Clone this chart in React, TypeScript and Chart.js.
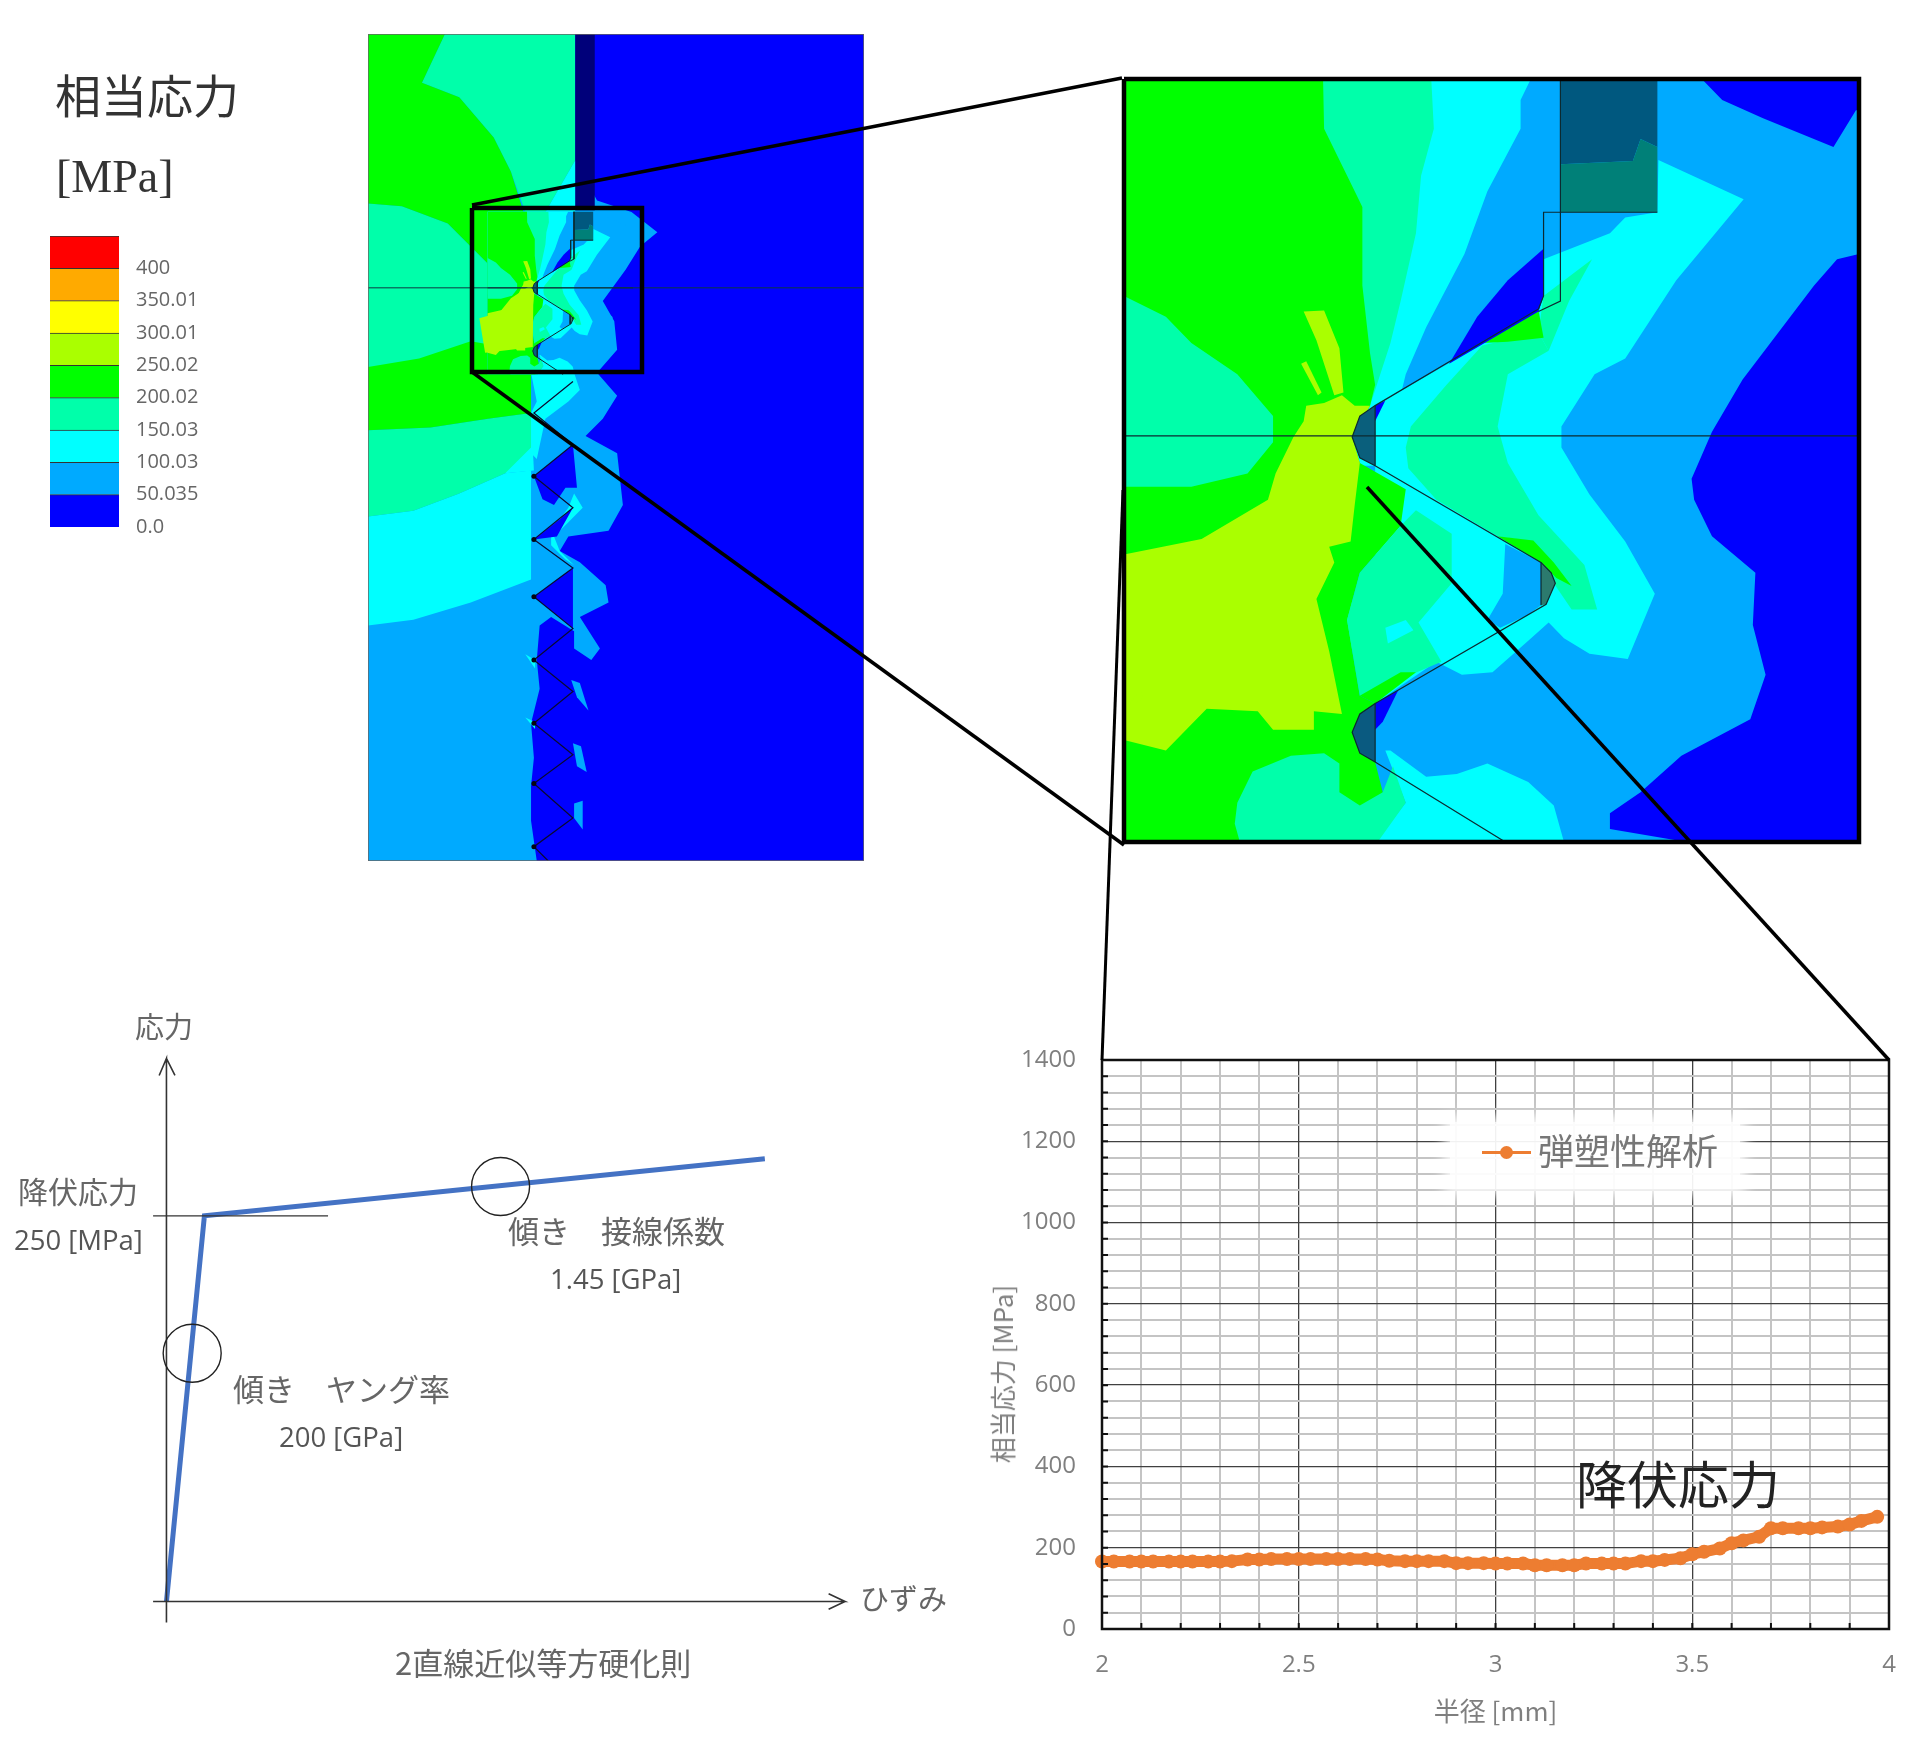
import React, { useEffect, useRef } from "react";
import { Chart, registerables } from "chart.js";
Chart.register(...registerables);

// ---------- elastic-plastic curve ----------
const radiusMm = [2.0,2.03,2.07,2.1,2.13,2.17,2.2,2.23,2.27,2.3,2.33,2.37,2.4,2.43,2.47,2.5,2.53,2.57,2.6,2.63,2.67,2.7,2.73,2.77,2.8,2.83,2.87,2.9,2.93,2.97,3.0,3.03,3.07,3.1,3.13,3.17,3.2,3.23,3.27,3.3,3.33,3.37,3.4,3.43,3.47,3.5,3.53,3.57,3.6,3.63,3.67,3.7,3.73,3.77,3.8,3.83,3.87,3.9,3.93,3.97];
const stressMPa = [166,166,166,166,166,166,166,166,166,166,167,171,171,172,172,172,172,172,172,172,172,171,168,167,167,167,167,162,162,162,161,161,161,157,157,157,157,161,161,161,161,167,167,170,174,184,190,198,211,218,227,248,248,248,248,250,252,257,266,276];
const yTicks = [0,40,80,120,160,200,240,280,320,360,400,440,480,520,560,600,640,680,720,760,800,840,880,920,960,1000,1040,1080,1120,1160,1200,1240,1280,1320,1360,1400];
const xTicks = [2,2.1,2.2,2.3,2.4,2.5,2.6,2.7,2.8,2.9,3,3.1,3.2,3.3,3.4,3.5,3.6,3.7,3.8,3.9,4];
const yMajor = [0,200,400,600,800,1000,1200,1400];
const xMajor = [2,2.5,3,3.5,4];

// ---------- contour colour key ----------
const bandLimits = [0,50.035,100.03,150.03,200.02,250.02,300.01,350.01,400,450];
const keyLabels = ["0.0","50.035","100.03","150.03","200.02","250.02","300.01","350.01","400"];
const L0="#0000ff",L1="#00aaff",L2="#00ffff",L3="#00ffaa",L4="#00ff00",L5="#aaff00",L6="#ffff00",L7="#ffaa00",L8="#ff0000";
const bandColors = [L0,L1,L2,L3,L4,L5,L6,L7,L8];

// ---------- bilinear hardening law ----------
const hardeningStrain = [0,0.00125,0.0197];
const hardeningStress = [0,250,287];
const strainAxis = [-0.00044,0, 0.02234,0, 0.0218,5, 0.02234,0, 0.0218,-5];
const stressAxis = [0,-13.5, 0,352, -0.00024,341, 0,352, 0.00028,341];
const yieldMark = [-0.00044,250, 0.00532,250];
const slopeMarks = [0.000847,161, 0.011,269];

// ---------- magnified contour (model units) ----------
const dBlue1=[48,55,1180,55,1220,95,1300,130,1438,185,1482,115,1488,115,1488,390,1445,400,1400,450,1330,540,1260,630,1200,730,1160,820,1165,860,1200,930,1285,1000,1280,1100,1305,1195,1275,1280,1140,1350,1060,1420,1000,1460,1000,1490,1150,1515,48,1515];
const dCyanTop=[48,55,845,55,825,95,825,150,760,270,715,390,640,530,600,620,580,700,540,730,540,795,48,795];
const dCyanRight=[1095,210,1262,285,1190,370,1130,440,1030,590,970,620,905,720,905,760,960,850,1030,940,1088,1040,1035,1165,960,1155,910,1125,880,1095,840,1130,770,1190,710,1195,660,1170,600,1210,540,1250,540,795,540,680,860,500,870,470,870,400,1000,350,1030,320,1093,310];
const dToothBlue1=[795,945,865,980,865,1062,840,1080,785,1105,760,1090,790,1040];
const dCyanBottom=[540,1515,600,1440,560,1340,570,1340,640,1390,700,1385,760,1365,840,1400,890,1445,910,1515];
const dSpringBase=[48,55,650,55,655,150,630,240,620,350,590,480,570,560,530,680,495,740,495,1515,48,1515];
const dGreen=[48,55,438,55,440,150,500,270,515,300,515,450,530,580,540,640,530,680,495,740,510,790,600,840,590,910,510,1000,485,1090,510,1235,540,1250,495,1305,540,1362,555,1420,520,1515,48,1515];
const dSpringLobe=[48,470,130,510,180,560,270,620,340,700,340,750,290,810,180,835,48,835];
const dSpringTooth=[680,640,750,565,860,540,880,575,800,620,780,720,800,790,860,890,950,985,975,1070,925,1070,890,1020,850,940,780,930,660,860,605,800,600,760,610,720];
const dSpringTip=[870,470,965,400,920,480,880,575,860,540];
const dGreenStrip=[750,560,860,497,870,550,800,558];
const dGreenTip=[780,930,850,938,890,980,925,1025,895,1010,865,980];
const dSpringLow=[485,1090,510,1000,590,910,620,880,690,925,690,1020,625,1095,670,1170,610,1195,540,1240,510,1235];
const dCyanSpot=[560,1105,600,1090,615,1110,565,1135];
const dGreenLow=[510,1235,590,1190,620,1190,540,1250];
const dSpringFoot=[275,1515,265,1480,270,1440,300,1380,375,1350,440,1345,470,1365,470,1420,510,1445,555,1420,575,1370,600,1440,545,1515];
const dLime=[495,740,510,790,500,870,492,940,450,950,460,980,425,1050,450,1150,475,1270,420,1265,420,1300,340,1300,310,1265,210,1260,130,1340,48,1320,48,965,200,935,330,860,345,810,380,740,400,710,405,680,440,675,475,660,500,680,530,680];
const dLimeSpike=[400,500,440,498,470,570,478,655,460,660,425,555];
const dLimeSpec=[60,1250,80,1222,85,1240,70,1250];
const dLimeThin=[395,600,405,595,435,655,428,660];
const dBlueWedge=[870,380,800,440,740,510,685,600,860,500,870,470];
const dBlueNotch=[540,1250,585,1225,555,1285,540,1300];
const dBlueTip=[540,680,560,670,540,710];
const dBlockTop=[903,55,1093,55,1093,185,1060,170,1045,212,903,218];
const dBlockLow=[903,218,1045,212,1060,170,1093,185,1093,310,903,310];
const dRoot1=[540,680,510,700,495,740,510,780,540,795];
const dRoot2=[865,980,885,1000,893,1020,875,1060,865,1062];
const dRoot3=[540,1250,510,1270,495,1305,510,1345,540,1362];
const dThread=[1093,310,870,310,870,470,860,495,540,680,510,700,495,740,510,780,540,795,865,980,885,1000,893,1020,875,1060,540,1250,510,1270,495,1305,510,1345,540,1362,795,1515];
const dBolt=[903,55,903,480,860,500];
const dCenter=[48,738,1488,738];
const dRootLines=[[540,680,540,795],[865,980,865,1062],[540,1250,540,1362]];

// ---------- whole-bolt contour (model units) ----------
const fBg=[641,60,1505,60,1505,1500,641,1500];
const fBlue1=[641,60,1002,60,1002,280,1040,350,1100,370,1145,405,1115,430,1090,470,1050,525,1070,560,1075,610,1040,650,1075,690,1050,730,1020,760,1075,790,1085,880,1060,925,990,935,975,960,1010,980,1055,1020,1060,1050,1010,1075,1045,1130,1030,1150,1000,1130,1000,1100,960,1075,940,1090,935,1150,940,1200,925,1260,930,1320,925,1370,925,1430,935,1500,641,1500];
const fCyanLow=[641,900,720,890,800,860,880,825,925,820,925,1010,820,1050,720,1080,641,1090];
const fCyanUp=[880,825,890,735,925,720,930,820];
const fCyanTop=[1002,280,950,370,1002,370];
const fCyanThread=[890,735,925,720,935,700,925,650,1000,650,1010,680,1020,670,990,700,950,730,935,800,905,770];
const fCyanSwirl=[1000,860,1015,885,990,910,965,935,975,960,1000,985,985,975,960,950,960,925,990,885];
const fSpringUp=[641,355,700,360,780,390,850,460,930,500,925,640,641,640];
const fSpringLow=[641,750,750,745,850,730,925,720,925,780,880,825,800,860,720,890,641,900];
const fSpringTop=[775,60,1002,60,1002,280,950,370,915,370,890,300,860,240,800,170,735,145];
const fGreenUp=[641,60,775,60,735,145,800,170,860,240,890,300,915,380,925,490,850,460,780,390,700,360,641,355];
const fGreenLow=[641,640,730,625,820,595,850,600,925,640,925,720,850,730,750,745,641,750];
const fLime=[835,555,870,545,890,520,925,497,929,520,928,605,890,610,845,615];
const fToothA=[930,830,998,775,1005,850,985,850,965,880,945,870];
const fToothB=[930,1040,998,990,998,1095];
const fToothC=[930,940,975,905,998,885,970,935];
const fSpikeA=[995,1185,1010,1190,1025,1238,1005,1215];
const fSpikeB=[998,1295,1012,1300,1022,1345,1005,1335];
const fSpikeC=[1000,1400,1015,1395,1015,1445,1000,1425];
const fSpikeD=[915,1140,932,1150,932,1165];
const fSpikeE=[915,1250,932,1258,932,1270];
const fBlock=[1002,60,1036,60,1036,367,1002,367];
const fZigzag=[998,665,930,720,998,775,930,830,998,885,930,940,998,990,930,1040,998,1095,930,1150,998,1205,930,1260,998,1315,930,1365,998,1425,930,1475,955,1500];
const fRootTips=[930,830,930,940,930,1040,930,1150,930,1260,930,1365,930,1475];
const fCenter=[641,502,1505,502];

// ---------- leader lines (page units) ----------
const calloutBox=[472,208,642,208,642,372,472,372,472,208];
const zoomBox=[1124,79,1859,79,1859,842,1124,842,1124,79];
const leaderA=[472,205,1122,78];
const leaderB=[472,372,1124,845];
const leaderC=[1123,490,1102,1060];
const leaderD=[1367,487,1889,1060];

const labels = [
  {t:"相当応力",x:55,y:93,s:46,c:"#333"},
  {t:"[MPa]",x:56,y:177,s:46,c:"#333",f:"'Liberation Serif',serif"},
  {t:"応力",x:135,y:1025,s:29,c:"#666"},
  {t:"降伏応力",x:18,y:1190,s:30,c:"#666"},
  {t:"250 [MPa]",x:14,y:1240,s:27.5,c:"#555",f:"'Open Sans',sans-serif"},
  {t:"傾き　接線係数",x:508,y:1229,s:31,c:"#666"},
  {t:"1.45 [GPa]",x:550,y:1279,s:27.5,c:"#555",f:"'Open Sans',sans-serif"},
  {t:"傾き　ヤング率",x:233,y:1387,s:31,c:"#666"},
  {t:"200 [GPa]",x:279,y:1437,s:27.5,c:"#555",f:"'Open Sans',sans-serif"},
  {t:"ひずみ",x:860,y:1597,s:29,c:"#666"},
  {t:"2直線近似等方硬化則",x:395,y:1661,s:31,c:"#666"},
  {t:"降伏応力",x:1576,y:1482,s:51,c:"#222"},
  {t:"弾塑性解析",x:1538,y:1149,s:36,c:"#777"},
];

const CJK = "'Noto Sans CJK JP','Noto Sans',sans-serif";
const AXIS_FONT = "'Open Sans','Noto Sans CJK JP',sans-serif";

const toPoints = (flat: number[]) => {
  const out: {x:number;y:number}[] = [];
  for (let i = 0; i < flat.length; i += 2) out.push({ x: flat[i], y: flat[i + 1] });
  return out;
};
const poly = (flat: number[], color: string, map?: (p:any)=>any) => ({
  data: map ? toPoints(flat).map(map) : toPoints(flat),
  polyFill: color, showLine: false, pointRadius: 0,
});
const stroke = (flat: number[], color: string, width: number, map?: (p:any)=>any) => ({
  data: map ? toPoints(flat).map(map) : toPoints(flat),
  showLine: true, pointRadius: 0, borderColor: color, borderWidth: width, tension: 0, fill: false,
});

const polygonFill = {
  id: "polygonFill",
  beforeDatasetDraw(chart: any, args: any) {
    const ds = chart.data.datasets[args.index];
    if (!ds.polyFill) return;
    const pts = args.meta.data;
    const ctx = chart.ctx;
    ctx.save();
    ctx.beginPath();
    pts.forEach((p: any, i: number) => (i ? ctx.lineTo(p.x, p.y) : ctx.moveTo(p.x, p.y)));
    ctx.closePath();
    ctx.fillStyle = ds.polyFill;
    ctx.fill();
    ctx.restore();
  },
};

const detailDatasets = (map: ((p:any)=>any) | undefined, lineW: number) => [
  poly(dBlue1,L1,map), poly(dCyanTop,L2,map), poly(dCyanRight,L2,map), poly(dToothBlue1,L1,map), poly(dCyanBottom,L2,map),
  poly(dSpringBase,L3,map), poly(dGreen,L4,map), poly(dSpringLobe,L3,map), poly(dSpringTooth,L3,map), poly(dSpringTip,L3,map),
  poly(dGreenStrip,L4,map), poly(dGreenTip,L4,map), poly(dSpringLow,L3,map), poly(dCyanSpot,L2,map), poly(dGreenLow,L4,map),
  poly(dSpringFoot,L3,map), poly(dLime,L5,map), poly(dLimeSpike,L5,map), poly(dLimeSpec,L5,map), poly(dLimeThin,L5,map),
  poly(dBlueWedge,L0,map), poly(dBlueNotch,L0,map), poly(dBlueTip,L0,map),
  poly(dBlockTop,"#00587f",map), poly(dBlockLow,"#008078",map), poly(dRoot1,"#0a5f7c",map), poly(dRoot2,"#2c7a6e",map), poly(dRoot3,"#0a5a80",map),
  stroke(dThread,"#0c2a30",lineW,map), stroke(dBolt,"#0c2a30",lineW,map), stroke(dCenter,"#0c2a30",lineW,map),
  ...dRootLines.map((l) => stroke(l,"#0c2a30",lineW,map)),
];

const ordered = (list: any[]) => list.map((d, i) => ({ ...d, order: list.length - i }));

const femOptions = (xMin:number,xMax:number,yMin:number,yMax:number): any => ({
  responsive: false, animation: false, events: [],
  layout: { padding: 0, autoPadding: false },
  plugins: { legend: { display: false }, tooltip: { enabled: false } },
  scales: {
    x: { type: "linear", display: false, min: xMin, max: xMax },
    y: { type: "linear", display: false, min: yMin, max: yMax, reverse: true },
  },
});

const inwardTicks = {
  id: "inwardTicks",
  afterDraw(chart: any) {
    const { ctx, chartArea: a, scales } = chart;
    ctx.save();
    ctx.strokeStyle = "#111";
    ctx.lineWidth = 2;
    ctx.beginPath();
    scales.y.ticks.forEach((t: any) => {
      const y = scales.y.getPixelForValue(t.value);
      ctx.moveTo(a.left, y); ctx.lineTo(a.left + 6, y);
    });
    scales.x.ticks.forEach((t: any) => {
      const x = scales.x.getPixelForValue(t.value);
      ctx.moveTo(x, a.bottom); ctx.lineTo(x, a.bottom - 6);
    });
    ctx.stroke();
    ctx.lineWidth = 2.5;
    ctx.strokeRect(a.left, a.top, a.right - a.left, a.bottom - a.top);
    ctx.restore();
  },
};

const noScalePad = (s: any) => { s.paddingTop = 0; s.paddingBottom = 0; s.paddingLeft = 0; s.paddingRight = 0; };

const Cv = ({ r, l, t, w, h, z }: any) => (
  <canvas ref={r} width={w} height={h} style={{ position: "absolute", left: l, top: t, width: w, height: h, zIndex: z || 1, pointerEvents: "none" }} />
);

export default function App() {
  const overview = useRef<HTMLCanvasElement>(null);
  const detail = useRef<HTMLCanvasElement>(null);
  const key = useRef<HTMLCanvasElement>(null);
  const curve = useRef<HTMLCanvasElement>(null);
  const law = useRef<HTMLCanvasElement>(null);
  const leaders = useRef<HTMLCanvasElement>(null);

  useEffect(() => {
    const charts: Chart[] = [];
    const toOverview = (p: any) => ({ x: 928 + (p.x - 495) * 0.176, y: 502 + (p.y - 738) * 0.194 });

    charts.push(new Chart(overview.current!, {
      type: "scatter",
      data: { datasets: ordered([
        poly(fBg,L0), poly(fBlue1,L1), poly(fCyanLow,L2), poly(fCyanUp,L2), poly(fCyanTop,L2), poly(fCyanThread,L2), poly(fCyanSwirl,L2),
        poly(fSpringUp,L3), poly(fSpringLow,L3), poly(fSpringTop,L3), poly(fGreenUp,L4), poly(fGreenLow,L4),
        poly(fToothA,L0), poly(fToothB,L0), poly(fToothC,L0), poly(fSpikeA,L1), poly(fSpikeB,L1), poly(fSpikeC,L1), poly(fSpikeD,L2), poly(fSpikeE,L2),
        poly(fBlock,"#00007a"),
        ...detailDatasets(toOverview, 1),
        poly(fLime,L5),
        stroke(fZigzag,"#0a0a30",1.2),
        { data: toPoints(fRootTips), showLine: false, pointRadius: 2.5, pointBackgroundColor: "#050510", pointBorderWidth: 0 },
        stroke(fCenter,"#0c3a40",1),
        stroke(fBg.concat(fBg.slice(0,2)),"#666",1.5),
      ]) as any },
      options: femOptions(641,1505,60,1500),
      plugins: [polygonFill],
    }));

    charts.push(new Chart(detail.current!, {
      type: "scatter",
      data: { datasets: ordered([poly([48,55,1488,55,1488,1515,48,1515],L0), ...detailDatasets(undefined, 1.2)]) as any },
      options: femOptions(48,1488,55,1515),
      plugins: [polygonFill],
    }));

    charts.push(new Chart(key.current!, {
      type: "bar",
      data: {
        labels: ["level"],
        datasets: bandColors.map((c, i) => ({
          label: keyLabels[i], data: [bandLimits[i + 1] - bandLimits[i]], backgroundColor: c,
          borderColor: "#333", borderWidth: { top: 1, bottom: 0, left: 0, right: 0 }, borderSkipped: false,
          categoryPercentage: 1, barPercentage: 1,
        })) as any,
      },
      options: {
        responsive: false, animation: false, events: [],
        layout: { padding: { left: 10, top: 10, bottom: 19, right: 0 }, autoPadding: false },
        plugins: { legend: { display: false }, tooltip: { enabled: false } },
        scales: {
          x: { stacked: true, display: false },
          y: {
            stacked: true, position: "right", min: 0, max: 450,
            grid: { display: false }, border: { display: false },
            afterFit: (s: any) => { s.width = 121; noScalePad(s); },
            afterBuildTicks: (s: any) => { s.ticks = bandLimits.slice(0, 9).map((v) => ({ value: v })); },
            ticks: {
              autoSkip: false, padding: 9, color: "#666",
              font: { family: AXIS_FONT, size: 20 },
              callback: (v: any) => keyLabels[bandLimits.indexOf(v)],
            },
          },
        },
      } as any,
    }));

    charts.push(new Chart(curve.current!, {
      type: "scatter",
      data: { datasets: [{
        label: "弾塑性解析",
        data: radiusMm.map((x, i) => ({ x, y: stressMPa[i] })),
        showLine: true, borderColor: "#ED7D31", borderWidth: 11, tension: 0,
        pointRadius: 7, pointBackgroundColor: "#ED7D31", pointBorderWidth: 0,
        clip: false,
      }] as any },
      options: {
        responsive: false, animation: false, events: [],
        layout: { padding: { top: 30, right: 31, left: 0, bottom: 0 }, autoPadding: false },
        plugins: { legend: { display: false }, tooltip: { enabled: false } },
        scales: {
          x: {
            type: "linear", min: 2, max: 4,
            afterFit: (s: any) => { s.height = 119; noScalePad(s); },
            afterBuildTicks: (s: any) => { s.ticks = xTicks.map((v) => ({ value: v })); },
            grid: {
              drawTicks: false,
              color: (c: any) => (xMajor.includes(c.tick?.value) ? "#404040" : "#c4c4c4"),
              lineWidth: (c: any) => (xMajor.includes(c.tick?.value) ? 1.3 : 2),
            },
            border: { display: false },
            ticks: {
              autoSkip: false, maxRotation: 0, padding: 22, color: "#7f7f7f",
              font: { family: AXIS_FONT, size: 24 },
              callback: (v: any) => (xMajor.includes(v) ? String(v) : ""),
            },
            title: { display: true, text: "半径 [mm]", color: "#7f7f7f", font: { family: CJK, size: 26 }, padding: { bottom: 21, top: 0 } },
          },
          y: {
            type: "linear", min: 0, max: 1400,
            afterFit: (s: any) => { s.width = 142; noScalePad(s); },
            afterBuildTicks: (s: any) => { s.ticks = yTicks.map((v) => ({ value: v })); },
            grid: {
              drawTicks: false,
              color: (c: any) => (yMajor.includes(c.tick?.value) ? "#404040" : "#c4c4c4"),
              lineWidth: (c: any) => (yMajor.includes(c.tick?.value) ? 1.3 : 2),
            },
            border: { display: false },
            ticks: {
              autoSkip: false, padding: 26, color: "#7f7f7f",
              font: { family: AXIS_FONT, size: 24 },
              callback: (v: any) => (yMajor.includes(v) ? String(v) : ""),
            },
          },
        },
      } as any,
      plugins: [inwardTicks],
    }));

    charts.push(new Chart(law.current!, {
      type: "scatter",
      data: { datasets: ordered([
        { data: hardeningStrain.map((x, i) => ({ x, y: hardeningStress[i] })), showLine: true, borderColor: "#4472C4", borderWidth: 5, tension: 0, pointRadius: 0 },
        stroke(strainAxis,"#333",1.6), stroke(stressAxis,"#333",1.6), stroke(yieldMark,"#333",1.4),
        { data: toPoints(slopeMarks), showLine: false, pointStyle: "circle", pointRadius: 29, backgroundColor: "rgba(0,0,0,0)", borderColor: "#222", borderWidth: 1.4 },
      ]) as any },
      options: {
        responsive: false, animation: false, events: [],
        layout: { padding: 0, autoPadding: false },
        plugins: { legend: { display: false }, tooltip: { enabled: false } },
        scales: {
          x: { type: "linear", display: false, min: -0.0012, max: 0.02415 },
          y: { type: "linear", display: false, min: -31.4, max: 364 },
        },
      } as any,
    }));

    charts.push(new Chart(leaders.current!, {
      type: "scatter",
      data: { datasets: [
        stroke(calloutBox,"#000",4.5), stroke(zoomBox,"#000",4.5),
        stroke(leaderA,"#000",3.5), stroke(leaderB,"#000",3.5), stroke(leaderC,"#000",3), stroke(leaderD,"#000",3.5),
      ] as any },
      options: femOptions(0,1920,0,1748),
    }));

    return () => charts.forEach((c) => c.destroy());
  }, []);

  return (
    <div style={{ position: "absolute", left: 0, top: 0, width: 1920, height: 1748, overflow: "hidden", background: "#fff", fontFamily: CJK, filter: "blur(0.6px)" }}>
      <Cv r={overview} l={368} t={34} w={496} h={827} />
      <Cv r={detail} l={1124} t={79} w={735} h={763} />
      <Cv r={key} l={40} t={226} w={200} h={320} />
      <Cv r={curve} l={960} t={1030} w={960} h={718} />
      <Cv r={law} l={130} t={1040} w={770} h={610} />
      <Cv r={leaders} l={0} t={0} w={1920} h={1748} z={3} />
      <div style={{ position: "absolute", left: 1450, top: 1122, width: 290, height: 67, background: "rgba(255,255,255,0.93)", boxShadow: "0 0 12px 6px rgba(255,255,255,0.9)", zIndex: 2 }} />
      <div style={{ position: "absolute", left: 1482, top: 1151, width: 49, height: 3, background: "#ED7D31", zIndex: 4 }} />
      <div style={{ position: "absolute", left: 1500, top: 1146, width: 13, height: 13, borderRadius: "50%", background: "#ED7D31", zIndex: 4 }} />
      {labels.map((l) => (
        <div key={l.t + l.x} style={{ position: "absolute", left: l.x, top: l.y, transform: "translateY(-50%)", fontSize: l.s, color: l.c, fontFamily: (l as any).f || CJK, whiteSpace: "nowrap", lineHeight: 1, zIndex: 4 }}>{l.t}</div>
      ))}
      <div style={{ position: "absolute", left: 1002, top: 1374, transform: "translate(-50%,-50%) rotate(-90deg)", fontSize: 26, color: "#7f7f7f", whiteSpace: "nowrap", lineHeight: 1, zIndex: 4 }}>相当応力 [MPa]</div>
    </div>
  );
}
